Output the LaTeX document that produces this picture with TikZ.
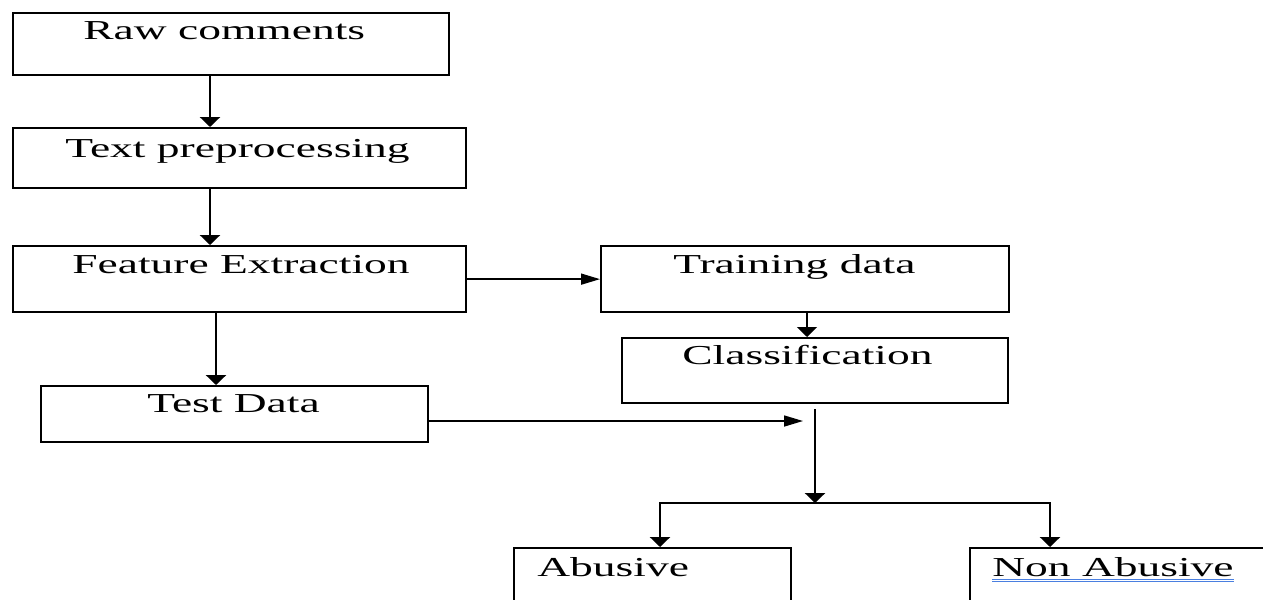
\documentclass[tikz,border=0pt]{standalone}
\usepackage{fontspec}
\setmainfont{Liberation Serif}[FakeStretch=1.66]
\usetikzlibrary{arrows.meta,calc}
\definecolor{spellblue}{HTML}{4A7FE0}
\tikzset{
  box/.style={draw, line width=1.3pt, inner sep=0pt, anchor=north west},
  lbl/.style={inner sep=0pt, anchor=base west, font=\fontsize{15.6}{18}\selectfont},
  vline/.style={line width=1.4pt, -{Triangle[length=0.2cm,width=0.4cm]}},
  hline/.style={line width=0.9pt, -{Triangle[length=0.38cm,width=0.22cm]}},
}
\begin{document}
\begin{tikzpicture}[x=0.02cm,y=-0.02cm]
\clip (0,0) rectangle (1263,599);
% boxes
\node[box, minimum width=8.72cm, minimum height=1.24cm] (raw) at (12,12) {};
\node[box, minimum width=9.06cm, minimum height=1.2cm] (prep) at (12,127) {};
\node[box, minimum width=9.06cm, minimum height=1.32cm] (feat) at (12,245) {};
\node[box, minimum width=7.74cm, minimum height=1.12cm] (test) at (40,385) {};
\node[box, minimum width=8.16cm, minimum height=1.32cm] (train) at (600,245) {};
\node[box, minimum width=7.72cm, minimum height=1.3cm] (cls) at (621,337) {};
\node[box, minimum width=5.54cm, minimum height=1.6cm] (abu) at (513,547) {};
\node[box, minimum width=6cm, minimum height=1.6cm] (nonabu) at (969,547) {};
% texts
\node[lbl] (rawT) at (83,39) {Raw comments};
\node[lbl] (prepT) at (65,157) {Text preprocessing};
\node[lbl] (featT) at (72,273) {Feature Extraction};
\node[lbl] (testT) at (147,412) {Test Data};
\node[lbl] (trainT) at (673,273) {Training data};
\node[lbl] (clsT) at (682,364) {Classification};
\node[lbl] (abuT) at (537,576) {Abusive};
\node[lbl] (nonabuT) at (992,576) {Non Abusive};
\draw[spellblue, line width=0.4pt] ($(nonabuT.base west)+(0,3)$) -- ($(nonabuT.base east)+(0,3)$);
\draw[spellblue, line width=0.4pt] ($(nonabuT.base west)+(0,5)$) -- ($(nonabuT.base east)+(0,5)$);
% connectors
\coordinate (spineA) at (210,0);
\coordinate (spineB) at (216,0);
\coordinate (spineC) at (807,0);
\coordinate (hit) at (803,421);
\coordinate (join) at (815,409);
\coordinate (fork) at (815,503);
\coordinate (abuIn) at (660,547);
\coordinate (nonabuIn) at (1050,547);
\draw[vline] (raw.south -| spineA) -- (prep.north -| spineA);
\draw[vline] (prep.south -| spineA) -- (feat.north -| spineA);
\draw[vline] (feat.south -| spineB) -- (test.north -| spineB);
\draw[hline] (feat.east) -- (train.west);
\draw[vline, line width=1pt] (train.south -| spineC) -- (cls.north -| spineC);
\draw[hline] (hit -| test.east) -- (hit);
\draw[vline] (join) -- (fork);
\draw[vline] (fork) -| (abuIn);
\draw[vline] (fork) -| (nonabuIn);
\end{tikzpicture}
\end{document}
